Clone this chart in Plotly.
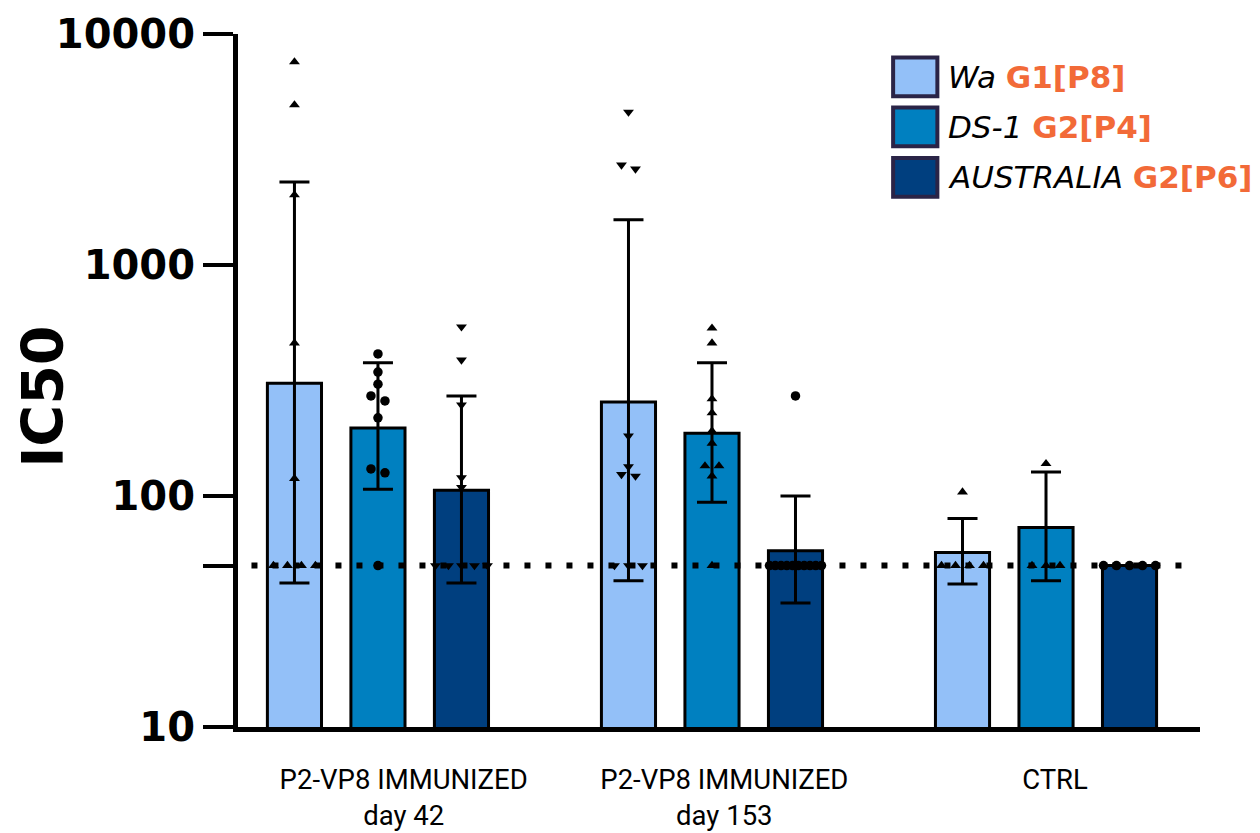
import numpy as np
import plotly.graph_objects as go

# ---------------- data ----------------
groups = ["P2-VP8 IMMUNIZED<br>day 42", "P2-VP8 IMMUNIZED<br>day 153", "CTRL"]
series_names = ["Wa", "DS-1", "AUSTRALIA"]
genotypes = ["G1[P8]", "G2[P4]", "G2[P6]"]

# bar heights (geometric means) and error-bar ends
wa_mean = [308, 255, 57]
wa_upper = [2290, 1570, 80]
wa_lower = [42, 43, 41.6]

ds1_mean = [197, 187, 73]
ds1_upper = [377, 377, 127]
ds1_lower = [107, 94, 43]

aus_mean = [106, 58, 50]
aus_upper = [271, 100, 50]
aus_lower = [42, 34.4, 50]

# individual points
wa_pts_d42 = [7570, 4930, 2010, 459, 119, 50, 50, 50, 50]
wa_pts_d153 = [4590, 2710, 2605, 182, 134, 124, 122, 50, 50, 50]
wa_pts_ctrl = [104, 50, 50, 50, 50]

ds1_pts_d42 = [412, 344, 305, 271, 258, 218, 131, 126, 50]
ds1_pts_d153 = [533, 459, 263, 229, 191, 169, 135, 135, 122, 50]
ds1_pts_ctrl = [138, 50, 50, 50]

aus_pts_d42 = [540, 388, 248, 120, 109, 50, 50, 50, 50, 50]
aus_pts_d153 = [271, 50, 50, 50, 50, 50, 50, 50, 50, 50, 50]
aus_pts_ctrl = [50, 50, 50, 50, 50]

detection_limit = 50

y_tickvals = [10, 50, 100, 1000, 10000]
y_ticktext = ["10", "", "100", "1000", "10000"]

# ---------------- styles ----------------
colors = ["#93C0F8", "#0080C0", "#003F7F"]
legend_border = "#2A2447"
orange = "#F26A38"
symbols = [
    ["triangle-up", "triangle-down", "triangle-up"],
    ["circle", "triangle-up", "triangle-up"],
    ["triangle-down", "circle", "circle"],
]
bar_offsets = [-0.25, 0.0, 0.25]
bar_width = 0.162
label_shift = [0.077, 0.037, 0.027]   # category labels sit slightly right of group centre

means = [wa_mean, ds1_mean, aus_mean]
uppers = [wa_upper, ds1_upper, aus_upper]
lowers = [wa_lower, ds1_lower, aus_lower]
points = [
    [wa_pts_d42, wa_pts_d153, wa_pts_ctrl],
    [ds1_pts_d42, ds1_pts_d153, ds1_pts_ctrl],
    [aus_pts_d42, aus_pts_d153, aus_pts_ctrl],
]

PX_PER_UNIT = 334.0
PX_PER_DECADE = 231.0


def spread(values, thr=6.5, step=14.0, maxspan=52.0):
    """horizontal offsets (data units) for points that overlap vertically"""
    v = np.asarray(values, dtype=float)
    order = np.argsort(-v, kind="stable")
    ypix = np.log10(v) * PX_PER_DECADE
    offs = np.zeros(len(v))
    clusters, cur = [], [order[0]]
    for a, b in zip(order[:-1], order[1:]):
        if abs(ypix[a] - ypix[b]) < thr:
            cur.append(b)
        else:
            clusters.append(cur)
            cur = [b]
    clusters.append(cur)
    for c in clusters:
        n = len(c)
        if n == 1:
            continue
        sp = min(step, maxspan / (n - 1))
        for k, i in enumerate(c):
            offs[i] = (k - (n - 1) / 2) * sp / PX_PER_UNIT
    return offs


fig = go.Figure()

for s in range(3):
    xs = [g + bar_offsets[s] for g in range(3)]
    err_plus = [u - m for u, m in zip(uppers[s], means[s])]
    err_minus = [m - l for m, l in zip(means[s], lowers[s])]
    fig.add_trace(go.Bar(
        x=xs, y=means[s], width=bar_width,
        name=series_names[s],
        marker=dict(color=colors[s], line=dict(color="black", width=3)),
        error_y=dict(type="data", symmetric=False, array=err_plus,
                     arrayminus=err_minus, color="black", thickness=3, width=15),
        showlegend=False,
    ))

for s in range(3):
    for g in range(3):
        vals = points[s][g]
        offs = spread(vals)
        fig.add_trace(go.Scatter(
            x=[g + bar_offsets[s] + o for o in offs], y=vals,
            mode="markers",
            marker=dict(symbol=symbols[s][g], size=9.5, color="black",
                        line=dict(width=0)),
            showlegend=False, hoverinfo="y",
        ))

# dotted detection-limit line
fig.add_shape(type="line", xref="paper", yref="y", x0=0.014, x1=0.985,
              y0=detection_limit, y1=detection_limit,
              line=dict(color="black", width=6, dash="6px,15px"), layer="above")

# custom legend
leg_rows = [0.938, 0.866, 0.793]
for s in range(3):
    yc = leg_rows[s]
    fig.add_shape(type="rect", xref="paper", yref="paper",
                  x0=0.681, x1=0.727, y0=yc - 0.028, y1=yc + 0.028,
                  fillcolor=colors[s], line=dict(color=legend_border, width=4))
    fig.add_annotation(
        xref="paper", yref="paper", x=0.736, y=yc, xanchor="left", yanchor="middle",
        showarrow=False,
        text=f"<i>{series_names[s]}</i> <b><span style='color:{orange}'>{genotypes[s]}</span></b>",
        font=dict(family="DejaVu Sans", size=31, color="black"),
    )

# y title
fig.add_annotation(xref="paper", yref="paper", x=-0.203, y=0.476,
                   xanchor="center", yanchor="middle", textangle=-90,
                   showarrow=False, text="<b>IC50</b>",
                   font=dict(family="DejaVu Sans", size=57, color="black"))

fig.update_layout(
    width=1260, height=833,
    margin=dict(l=230, r=68, t=26, b=114),
    plot_bgcolor="white", paper_bgcolor="white",
    barmode="overlay",
    xaxis=dict(range=[-0.419, 2.461],
               tickvals=[g + d for g, d in zip(range(3), label_shift)], ticktext=groups,
               showline=True, linewidth=5, linecolor="black", ticks="",
               showgrid=False, zeroline=False, ticklabelstandoff=24,
               automargin=False,
               tickfont=dict(family="Roboto", size=27.5, color="black")),
    yaxis=dict(type="log", range=[1, 4], tickvals=y_tickvals, ticktext=y_ticktext,
               showline=True, linewidth=5, linecolor="black",
               ticks="outside", ticklen=30, tickwidth=4, tickcolor="black",
               showgrid=False, zeroline=False, automargin=False,
               tickfont=dict(family="DejaVu Sans", size=40, color="black", weight="bold")),
)

fig.write_html("out.html")
